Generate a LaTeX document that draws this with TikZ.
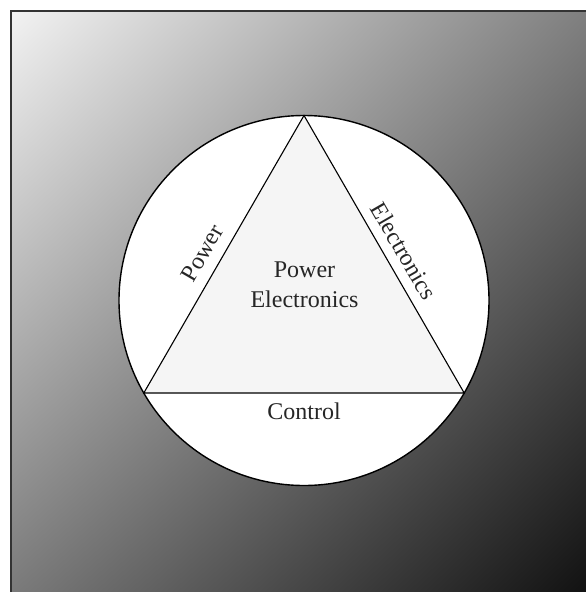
\documentclass[tikz,border=0pt]{standalone}
\usepackage{fontspec}
\setmainfont{Liberation Serif}
\usetikzlibrary{shadings}
\tikzset{
  edgeline/.style={line width=1.1pt, draw=black},
  lbl/.style={font=\fontsize{24}{30}\selectfont, text=black!85, inner sep=0pt, align=center},
}
\begin{document}
\begin{tikzpicture}[x=1pt,y=-1pt]
\useasboundingbox (0,0) rectangle (586,592);
\fill[white] (0,0) rectangle (586,592);
\shade[upper left=black!5, upper right=black!50, lower left=black!52, lower right=black!93] (11,11) rectangle (586,592);
\draw[line width=1.5pt, black!80] (586,11) -- (11,11) -- (11,592);
\coordinate (O) at (304,300.5);
\coordinate (A) at (304,115.5);
\coordinate (B) at (143.8,393);
\coordinate (C) at (464.2,393);
\fill[white] (O) circle[radius=185];
\fill[black!4] (A) -- (B) -- (C) -- cycle;
\draw[line width=1.4pt] (O) circle[radius=185];
\draw[edgeline] (A) -- (B) -- (C) -- cycle;
\node[lbl, rotate=60] (lp) at (202,253) {Power};
\node[lbl, rotate=-60] (le) at (404,251) {Electronics};
\node[lbl] (lc) at (304.5,285) {Power\\Electronics};
\node[lbl] (lctl) at (304,411) {Control};
\end{tikzpicture}
\end{document}
